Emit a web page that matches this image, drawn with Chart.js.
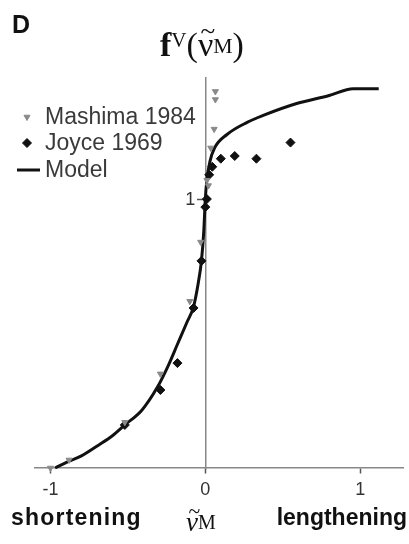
<!DOCTYPE html>
<html>
<head>
<meta charset="utf-8">
<script src="https://cdn.jsdelivr.net/npm/chart.js@4.4.1/dist/chart.umd.min.js"></script>
<style>
  html, body { margin: 0; padding: 0; background: #fff; }
  #wrap { position: relative; width: 409px; height: 544px; overflow: hidden; }
  #wrap canvas { position: absolute; left: 0; top: 0; }
  .lbl { position: absolute; line-height: 1; white-space: nowrap; color: #111; }
  .sans { font-family: 'Liberation Sans', Arial, sans-serif; font-weight: bold; }
  .serif { font-family: 'Liberation Serif', 'Times New Roman', serif; }
  .serif sup { position: relative; vertical-align: baseline; }
  .tl { position: relative; display: inline-block; }
  .tl::before { content: '~'; position: absolute; left: 0.1em; top: -0.38em; font-size: 0.8em; }
</style>
</head>
<body>
<div id="wrap">
  <canvas id="chart" width="409" height="544"></canvas>
  <div class="lbl sans" style="left:12px; top:12px; font-size:25px;">D</div>
  <div class="lbl serif" style="left:160px; top:28px; font-size:34px;"><b>f</b><sup style="top:-0.42em; font-size:0.62em;">V</sup>(<span class="tl">ν</span><sup style="top:-0.14em; font-size:0.64em;">M</sup>)</div>
  <div class="lbl sans" style="left:11px; top:506px; font-size:23px; letter-spacing:1.2px;">shortening</div>
  <div class="lbl sans" style="right:2px; top:506px; font-size:23px;">lengthening</div>
  <div class="lbl serif" style="left:186px; top:509px; font-size:27px;"><i class="tl">ν</i><sup style="top:-0.12em; font-size:0.74em;">M</sup></div>
</div>
<script>
// force-velocity data (normalised velocity, normalised force)
const legendLabels = ['Mashima 1984', 'Joyce 1969', 'Model'];

const mashimaX = [-1.0, -0.88, -0.52, -0.29, -0.10, -0.03, 0.01, 0.02, 0.035, 0.057, 0.065, 0.065];
const mashimaY = [0.0, 0.03, 0.17, 0.35, 0.62, 0.84, 1.07, 1.05, 1.19, 1.26, 1.37, 1.40];

const joyceX = [-0.52, -0.29, -0.18, -0.076, -0.025, 0.0, 0.01, 0.025, 0.045, 0.10, 0.19, 0.33, 0.55];
const joyceY = [0.16, 0.29, 0.39, 0.595, 0.77, 0.97, 1.0, 1.09, 1.12, 1.15, 1.16, 1.15, 1.21];

const modelX = [-0.97, -0.9, -0.8, -0.69, -0.6, -0.52, -0.41, -0.31, -0.24, -0.18, -0.12, -0.076,
  -0.045, -0.025, -0.01, 0.0, 0.01, 0.03, 0.06, 0.14, 0.27, 0.37, 0.59, 0.8, 0.955, 1.12];
const modelY = [0.0, 0.02, 0.045, 0.085, 0.12, 0.16, 0.215, 0.30, 0.38, 0.46, 0.54, 0.60,
  0.69, 0.77, 0.88, 1.0, 1.07, 1.14, 1.19, 1.24, 1.285, 1.31, 1.355, 1.385, 1.41, 1.41];

const xTicks = [-1, 0, 1];
const yTicks = [1];

const toPoints = (xs, ys) => xs.map((x, i) => ({ x, y: ys[i] }));

const sansFamily = "'Liberation Sans', Arial, sans-serif";
const tickFont = { family: sansFamily, size: 18 };

// legend drawn inside the plot, top-left, one row per dataset
const insetLegend = {
  id: 'insetLegend',
  afterDraw(chart) {
    const ctx = chart.ctx;
    const rowY = [117, 143, 170];
    ctx.save();
    chart.data.datasets.forEach((ds, i) => {
      const y = rowY[i];
      if (ds.showLine) {
        ctx.strokeStyle = ds.borderColor;
        ctx.lineWidth = 3;
        ctx.beginPath();
        ctx.moveTo(17, y);
        ctx.lineTo(40, y);
        ctx.stroke();
      } else {
        ctx.fillStyle = ds.backgroundColor;
        ctx.strokeStyle = ds.borderColor;
        Chart.helpers.drawPoint(ctx, {
          pointStyle: ds.pointStyle,
          rotation: ds.rotation || 0,
          radius: ds.pointRadius,
          borderWidth: 1
        }, 27, y);
      }
      ctx.font = '23px ' + sansFamily;
      ctx.fillStyle = '#3a3a3a';
      ctx.textBaseline = 'middle';
      ctx.fillText(ds.label, 45, y + 1);
    });
    ctx.restore();
  }
};

// the y axis sits at x = 0; chart.js puts its labels on the line, so draw them left of the tick marks
const yTickLabels = {
  id: 'yTickLabels',
  afterDraw(chart) {
    const { x, y } = chart.scales;
    const ctx = chart.ctx;
    const left = x.getPixelForValue(0) - 8 - 2;
    ctx.save();
    ctx.font = '18px ' + sansFamily;
    ctx.fillStyle = '#333';
    ctx.textAlign = 'right';
    ctx.textBaseline = 'middle';
    yTicks.forEach((v) => ctx.fillText(String(v), left, y.getPixelForValue(v) + 1));
    ctx.restore();
  }
};

new Chart(document.getElementById('chart'), {
  type: 'scatter',
  data: {
    datasets: [
      {
        label: legendLabels[0],
        data: toPoints(mashimaX, mashimaY),
        pointStyle: 'triangle',
        rotation: 180,
        pointRadius: 3.5,
        backgroundColor: '#8a8a8a',
        borderColor: '#8a8a8a',
        borderWidth: 1,
        clip: false
      },
      {
        label: legendLabels[1],
        data: toPoints(joyceX, joyceY),
        pointStyle: 'rectRot',
        pointRadius: 4.5,
        backgroundColor: '#111',
        borderColor: '#111',
        borderWidth: 1,
        clip: false
      },
      {
        label: legendLabels[2],
        data: toPoints(modelX, modelY),
        showLine: true,
        pointRadius: 0,
        borderColor: '#111',
        borderWidth: 3,
        cubicInterpolationMode: 'monotone',
        clip: false
      }
    ]
  },
  options: {
    responsive: false,
    animation: false,
    layout: { padding: { left: 35, right: 0, top: 78, bottom: 76 } },
    plugins: {
      legend: { display: false },
      tooltip: { enabled: false }
    },
    scales: {
      x: {
        type: 'linear',
        position: { y: 0 },
        min: -1.1,
        max: 1.28,
        afterBuildTicks: (scale) => { scale.ticks = xTicks.map((v) => ({ value: v })); },
        ticks: {
          font: tickFont,
          color: '#333',
          padding: 6,
          callback: (v) => String(v)
        },
        grid: { drawOnChartArea: false, drawTicks: true, tickLength: 5, tickColor: '#555', tickWidth: 1.5 },
        border: { display: true, color: '#888', width: 1.5 }
      },
      y: {
        type: 'linear',
        position: { x: 0 },
        min: 0,
        max: 1.45,
        afterBuildTicks: (scale) => { scale.ticks = yTicks.map((v) => ({ value: v })); },
        ticks: { display: false },
        grid: { drawOnChartArea: false, drawTicks: true, tickLength: 8, tickColor: '#555', tickWidth: 1.5 },
        border: { display: true, color: '#888', width: 1.5 }
      }
    }
  },
  plugins: [insetLegend, yTickLabels]
});
</script>
</body>
</html>
